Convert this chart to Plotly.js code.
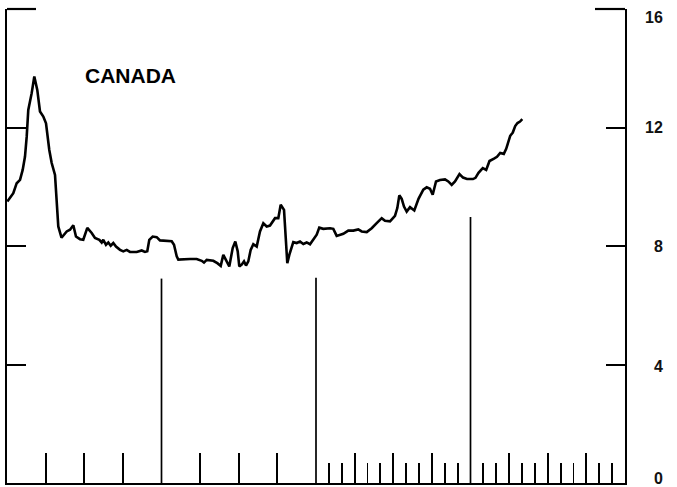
<!DOCTYPE html>
<html>
<head>
<meta charset="utf-8">
<script src="https://cdn.plot.ly/plotly-3.0.1.min.js"></script>
<style>
  html, body { margin: 0; padding: 0; background: #ffffff; }
  #chart { width: 677px; height: 487px; }
</style>
</head>
<body>
<div id="chart"></div>
<script>
// ---- data (x: period index on a 0–16 scale, y: value) ----
const periodX = [
  0.008, 0.163, 0.251, 0.337, 0.406, 0.466, 0.510, 0.551, 0.639, 0.707,
  0.784, 0.854, 0.940, 1.010, 1.095, 1.157, 1.243, 1.302, 1.328, 1.411,
  1.546, 1.631, 1.717, 1.786, 1.890, 1.975, 2.079, 2.193, 2.278, 2.390,
  2.452, 2.493, 2.563, 2.623, 2.685, 2.752, 2.822, 2.926, 3.011, 3.099,
  3.184, 3.358, 3.487, 3.573, 3.632, 3.684, 3.772, 3.876, 3.961, 4.264,
  4.324, 4.394, 4.435, 4.738, 4.911, 5.041, 5.100, 5.170, 5.341, 5.445,
  5.533, 5.600, 5.670, 5.755, 5.843, 5.911, 5.973, 6.014, 6.076, 6.136,
  6.188, 6.247, 6.309, 6.377, 6.465, 6.550, 6.636, 6.724, 6.809, 6.939,
  7.024, 7.086, 7.172, 7.223, 7.257, 7.309, 7.412, 7.500, 7.586, 7.671,
  7.759, 7.845, 7.930, 8.018, 8.085, 8.189, 8.362, 8.448, 8.536, 8.621,
  8.707, 8.836, 8.966, 9.095, 9.183, 9.313, 9.442, 9.571, 9.701, 9.786,
  9.916, 10.045, 10.105, 10.157, 10.219, 10.278, 10.348, 10.434, 10.545, 10.654,
  10.778, 10.866, 10.951, 11.021, 11.107, 11.210, 11.340, 11.425, 11.513, 11.599,
  11.715, 11.806, 11.909, 12.065, 12.129, 12.207, 12.318, 12.406, 12.492, 12.608,
  12.686, 12.769, 12.862, 12.924, 12.979, 13.028, 13.095, 13.157, 13.217, 13.282,
  13.341
];
const canadaValues = [
  9.50, 9.78, 10.12, 10.23, 10.57, 11.02, 11.69, 12.59, 13.16, 13.72,
  13.27, 12.54, 12.37, 12.14, 11.24, 10.80, 10.40, 9.33, 8.66, 8.28,
  8.49, 8.55, 8.70, 8.32, 8.23, 8.21, 8.61, 8.44, 8.27, 8.21,
  8.12, 8.21, 8.04, 8.12, 8.01, 8.10, 7.98, 7.87, 7.82, 7.87,
  7.80, 7.80, 7.85, 7.80, 7.82, 8.21, 8.32, 8.30, 8.19, 8.16,
  8.04, 7.65, 7.54, 7.56, 7.56, 7.50, 7.44, 7.53, 7.50, 7.42,
  7.33, 7.70, 7.54, 7.31, 7.93, 8.15, 7.82, 7.31, 7.37, 7.48,
  7.34, 7.48, 7.87, 8.06, 7.98, 8.49, 8.77, 8.66, 8.69, 8.94,
  8.94, 9.39, 9.22, 7.82, 7.42, 7.70, 8.13, 8.10, 8.15, 8.07,
  8.12, 8.06, 8.21, 8.38, 8.62, 8.58, 8.60, 8.58, 8.34, 8.38,
  8.41, 8.52, 8.52, 8.56, 8.49, 8.47, 8.60, 8.77, 8.94, 8.85,
  8.83, 9.02, 9.28, 9.71, 9.59, 9.33, 9.16, 9.31, 9.20, 9.59,
  9.90, 9.98, 9.93, 9.73, 10.18, 10.23, 10.25, 10.18, 10.06, 10.18,
  10.43, 10.31, 10.26, 10.26, 10.30, 10.47, 10.63, 10.57, 10.87, 10.95,
  11.01, 11.14, 11.11, 11.28, 11.52, 11.72, 11.83, 12.05, 12.15, 12.20,
  12.28
];
const seriesLabel = "CANADA";

// y-axis tick labels (right side)
const yTickValues = [0, 4, 8, 12, 16];
const yTickLabels = ["0", "4", "8", "12", "16"];

// x-axis tick marks
const xMajorTicks = [1, 2, 3, 5, 6, 7, 9, 10, 11, 13, 14, 15];
const xMinorTicks = [8.333, 8.667, 9.333, 9.667, 10.333, 10.667, 11.333, 11.667,
                     12.333, 12.667, 13.333, 13.667, 14.333, 14.667, 15.333, 15.667];
// tall divider lines: position and height (in y units)
const dividerX = [4, 8, 12];
const dividerTop = [6.9, 6.93, 8.98];

// ---- chart ----
const lineTrace = {
  x: periodX,
  y: canadaValues,
  type: "scatter",
  mode: "lines",
  line: { color: "#000000", width: 2.6, shape: "linear" },
  hoverinfo: "skip",
  showlegend: false
};

const yAxisCommon = {
  range: [0, 16],
  showline: true,
  linecolor: "#000000",
  linewidth: 2.2,
  showgrid: false,
  zeroline: false,
  showticklabels: false,
  ticks: "inside",
  tickmode: "array",
  tickvals: [4, 8, 12],
  ticklen: 19,
  tickwidth: 2,
  tickcolor: "#000000",
  fixedrange: true
};

const shapes = dividerX.map((dx, i) => ({
  type: "line", xref: "x", yref: "y",
  x0: dx, x1: dx, y0: 0, y1: dividerTop[i],
  line: { color: "#000000", width: 1.7 }
}));
// longer end ticks at the top of both axes (paper coords so they are not clipped)
shapes.push({ type: "line", xref: "paper", yref: "paper", x0: 0, x1: 29 / 618, y0: 1, y1: 1,
  line: { color: "#000000", width: 2.2 } });
shapes.push({ type: "line", xref: "paper", yref: "paper", x0: 1 - 30 / 618, x1: 1, y0: 1, y1: 1,
  line: { color: "#000000", width: 2.2 } });

const labelShift = { 0: 5, 4: -2, 8: 0, 12: 0, 16: -8.5 };
const annotations = yTickValues.map((v, i) => ({
  xref: "paper", yref: "y",
  x: 1.0647, y: v,
  xanchor: "right", yanchor: "middle",
  yshift: labelShift[v],
  text: "<b>" + yTickLabels[i] + "</b>",
  showarrow: false,
  font: { family: "Liberation Sans, Arial, sans-serif", size: 16, color: "#111111" }
}));
annotations.push({
  xref: "x", yref: "y",
  x: 1.96, y: 13.74,
  xanchor: "left", yanchor: "middle",
  text: seriesLabel,
  showarrow: false,
  font: { family: "Liberation Sans, Arial, sans-serif", size: 21, color: "#000000", weight: 600 }
});

const layout = {
  width: 677,
  height: 487,
  margin: { l: 7, r: 52, t: 9, b: 4, pad: 0 },
  paper_bgcolor: "#ffffff",
  plot_bgcolor: "#ffffff",
  showlegend: false,
  xaxis: {
    range: [0, 16],
    showline: true,
    linecolor: "#000000",
    linewidth: 2.2,
    showgrid: false,
    zeroline: false,
    showticklabels: false,
    ticks: "inside",
    tickmode: "array",
    tickvals: xMajorTicks,
    ticklen: 30,
    tickwidth: 2,
    tickcolor: "#000000",
    minor: { ticks: "inside", tickmode: "array", tickvals: xMinorTicks, ticklen: 20, tickwidth: 1.8, tickcolor: "#000000", showgrid: false },
    fixedrange: true
  },
  yaxis: Object.assign({}, yAxisCommon, { side: "right" }),
  yaxis2: Object.assign({}, yAxisCommon, { side: "left", overlaying: "y", matches: "y" }),
  shapes: shapes,
  annotations: annotations
};

const ghost = { x: [0], y: [0], yaxis: "y2", type: "scatter", mode: "none", hoverinfo: "skip", showlegend: false };

Plotly.newPlot("chart", [lineTrace, ghost], layout, { staticPlot: true, displayModeBar: false });
</script>
</body>
</html>
